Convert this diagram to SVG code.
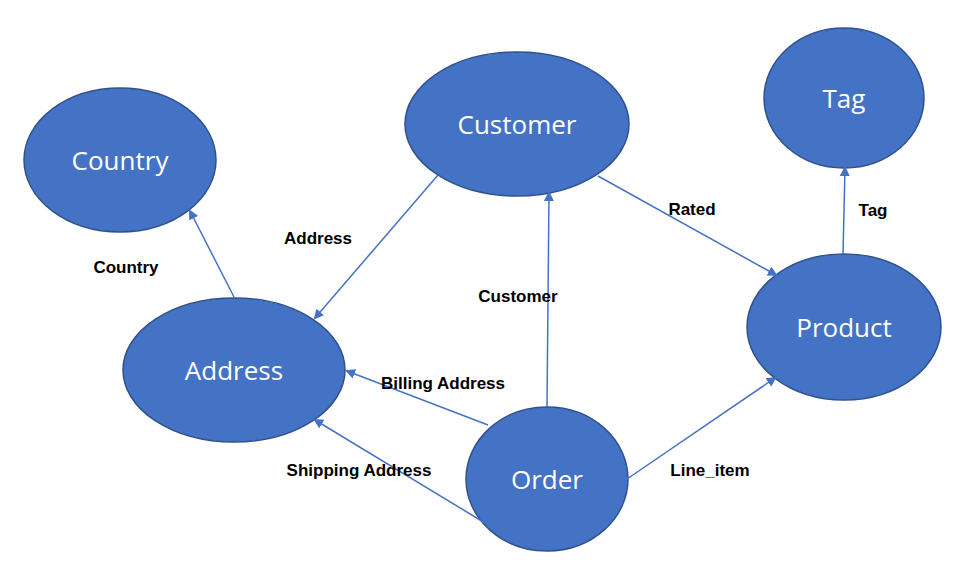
<svg xmlns="http://www.w3.org/2000/svg" width="964" height="562" viewBox="0 0 964 562">
<style>
.n{fill:#4472C4;stroke:#2F528F;stroke-width:1.5}
.t{fill:#fff;font-family:"Open Sans","Liberation Sans",sans-serif;font-size:26px;text-anchor:middle;dominant-baseline:central}
.c line{stroke:#4472C4;stroke-width:1.5;marker-end:url(#a)}
.l{fill:#000;font-family:"Liberation Sans",sans-serif;font-size:17px;font-weight:bold;text-anchor:middle;dominant-baseline:central}
</style>
<defs><marker id="a" markerWidth="10" markerHeight="10" refX="8" refY="5" orient="auto" markerUnits="userSpaceOnUse"><path d="M0,0 L10,5 L0,10 Z" fill="#4472C4"/></marker></defs>
<rect width="964" height="562" fill="#fff"/>
<g id="country"><ellipse class="n" cx="120" cy="160" rx="96" ry="72"/><text class="t" x="120" y="160">Country</text></g>
<g id="customer"><ellipse class="n" cx="517" cy="124" rx="112" ry="72"/><text class="t" x="517" y="124">Customer</text></g>
<g id="tag"><ellipse class="n" cx="844" cy="98" rx="80" ry="70"/><text class="t" x="844" y="98">Tag</text></g>
<g id="address"><ellipse class="n" cx="234" cy="370" rx="111" ry="72"/><text class="t" x="234" y="370">Address</text></g>
<g id="product"><ellipse class="n" cx="844" cy="327" rx="97" ry="73"/><text class="t" x="844" y="327">Product</text></g>
<g id="order"><ellipse class="n" cx="547" cy="479" rx="81" ry="72"/><text class="t" x="547" y="479">Order</text></g>
<g class="c" id="connectors">
<line x1="234" y1="297" x2="190" y2="211"/>
<line x1="438" y1="175" x2="315" y2="318"/>
<line x1="598" y1="176" x2="776" y2="275"/>
<line x1="843" y1="254" x2="845" y2="168"/>
<line x1="547" y1="407" x2="549" y2="193"/>
<line x1="488" y1="425" x2="347" y2="371"/>
<line x1="485" y1="523" x2="315" y2="420"/>
<line x1="627" y1="479" x2="775" y2="378"/>
</g>
<g id="labels">
<text class="l" x="126" y="267">Country</text>
<text class="l" x="318" y="238">Address</text>
<text class="l" x="692" y="209">Rated</text>
<text class="l" x="873" y="210">Tag</text>
<text class="l" x="518" y="296">Customer</text>
<text class="l" x="443" y="383">Billing Address</text>
<text class="l" x="359" y="470">Shipping Address</text>
<text class="l" x="710" y="470">Line_item</text>
</g>
</svg>
